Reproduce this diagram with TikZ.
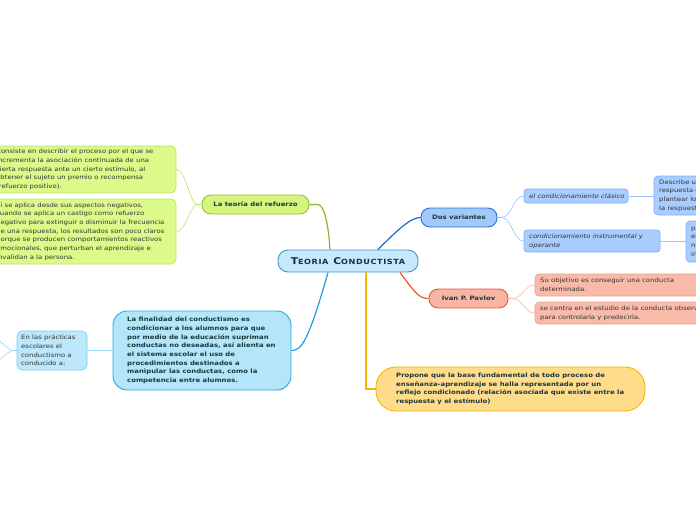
\documentclass[tikz,border=0pt]{standalone}
\usepackage{fontspec}
\setmainfont{DejaVu Sans}[FakeStretch=1.15]
\usetikzlibrary{calc}
\definecolor{txt}{HTML}{333333}
\definecolor{btxt}{HTML}{1C3838}
\definecolor{ctxt}{HTML}{1D2B55}
\definecolor{cfill}{HTML}{C6EAFB}\definecolor{cdraw}{HTML}{3D95D6}
\definecolor{gfill}{HTML}{D5F57C}\definecolor{gdraw}{HTML}{8BC53F}
\definecolor{g2fill}{HTML}{DBFA8A}\definecolor{g2draw}{HTML}{BDE366}
\definecolor{gline}{HTML}{8DB520}
\definecolor{bfill}{HTML}{A3C9FB}\definecolor{bdraw}{HTML}{2A6FD8}
\definecolor{b2fill}{HTML}{A9CDFF}\definecolor{b2draw}{HTML}{7EB0F2}
\definecolor{bline}{HTML}{1A66D8}\definecolor{b2line}{HTML}{9CC0F2}
\definecolor{rfill}{HTML}{F9B4A3}\definecolor{rdraw}{HTML}{E8563A}
\definecolor{r2fill}{HTML}{F9BBA9}\definecolor{r2draw}{HTML}{F2A08C}
\definecolor{rline}{HTML}{F05A2A}\definecolor{r2line}{HTML}{F6B4A2}
\definecolor{yfill}{HTML}{FFDB8C}\definecolor{ydraw}{HTML}{F7B500}
\definecolor{sfill}{HTML}{B3E5FB}\definecolor{sdraw}{HTML}{2BA6E6}
\definecolor{s2fill}{HTML}{BDE8FB}\definecolor{s2draw}{HTML}{7FCDF2}
\definecolor{sline}{HTML}{1A9FE0}\definecolor{s2line}{HTML}{9AD8F4}
\begin{document}
\begin{tikzpicture}[x=1pt,y=-1pt,
  box/.style={draw, line width=0.7pt, inner sep=0pt},
  lbl/.style={anchor=west, align=left, inner sep=0pt, text=txt, font=\fontsize{6}{8.7}\selectfont},
  blbl/.style={anchor=west, align=left, inner sep=0pt, text=btxt, font=\bfseries\fontsize{6}{8.7}\selectfont},
  ilbl/.style={anchor=west, align=left, inner sep=0pt, text=txt, font=\itshape\fontsize{6}{8.7}\selectfont},
  pill/.style={draw, line width=0.9pt, inner sep=0pt, text=btxt, font=\bfseries\fontsize{6}{8.7}\selectfont},
  conn/.style={line width=1.2pt},
  sconn/.style={line width=0.6pt}
]
\useasboundingbox (0,0) rectangle (696,520);
% central
\node[box, line width=0.9pt, fill=cfill, draw=cdraw, rounded corners=10pt, minimum width=140pt, minimum height=22pt, text=ctxt, font=\bfseries\addfontfeature{LetterSpace=8}] (c) at (348,261)
  {{\fontsize{9.3}{10}\selectfont T}{\fontsize{7.1}{10}\selectfont EORIA} {\fontsize{9.3}{10}\selectfont C}{\fontsize{7.1}{10}\selectfont ONDUCTISTA}};
% refuerzo
\node[pill, fill=gfill, draw=gdraw, rounded corners=9pt, minimum width=107pt, minimum height=19pt] (rf) at (255.5,204.5) {La teoría del refuerzo};
\node[box, fill=g2fill, draw=g2draw, rounded corners=5pt, minimum width=186pt, minimum height=47pt] (r1) at (83,169.5) {};
\node[lbl] (r1t) at (-4,169.5) {Consiste en describir el proceso por el que se\\incrementa la asociación continuada de una\\cierta respuesta ante un cierto estímulo, al\\obtener el sujeto un premio o recompensa\\(refuerzo positivo).};
\node[box, fill=g2fill, draw=g2draw, rounded corners=5pt, minimum width=186pt, minimum height=65pt] (r2) at (83,231.5) {};
\node[lbl] (r2t) at (-4,231.5) {Si se aplica desde sus aspectos negativos,\\cuando se aplica un castigo como refuerzo\\negativo para extinguir o disminuir la frecuencia\\de una respuesta, los resultados son poco claros\\porque se producen comportamientos reactivos\\emocionales, que perturban el aprendizaje e\\invalidan a la persona.};
% dos variantes
\node[pill, fill=bfill, draw=bdraw, rounded corners=9pt, minimum width=76pt, minimum height=19pt] (dv) at (459,217.5) {Dos variantes};
\node[box, fill=b2fill, draw=b2draw, rounded corners=3pt, minimum width=104pt, minimum height=14pt] (cl) at (576,196) {};
\node[ilbl] (clt) at (529,196) {el condicionamiento clásico};
\node[box, fill=b2fill, draw=b2draw, rounded corners=3pt, minimum width=136pt, minimum height=22pt] (ins) at (592,241) {};
\node[ilbl] (inst) at (529,241) {condicionamiento instrumental y\\operante};
\node[box, fill=b2fill, draw=b2draw, rounded corners=4pt, minimum width=86pt, minimum height=39pt] (desc) at (697,195.5) {};
\node[lbl] (desct) at (659,195.5) {Describe una\\respuesta co\\plantear los\\la respuesta};
\node[box, fill=b2fill, draw=b2draw, rounded corners=4pt, minimum width=54pt, minimum height=41pt] (pe) at (713,241.5) {};
\node[lbl] (pet) at (691,241.5) {pe\\el\\ne\\in};
% pavlov
\node[pill, fill=rfill, draw=rdraw, rounded corners=9pt, minimum width=79pt, minimum height=19pt] (pv) at (468.5,298.5) {Ivan P. Pavlov};
\node[box, fill=r2fill, draw=r2draw, rounded corners=4pt, minimum width=225pt, minimum height=22pt] (so) at (647.5,285) {};
\node[lbl] (sot) at (540,285) {Su objetivo es conseguir una conducta\\determinada.};
\node[box, fill=r2fill, draw=r2draw, rounded corners=4pt, minimum width=225pt, minimum height=22pt] (sc) at (647.5,313) {};
\node[lbl] (sct) at (540,313) {se centra en el estudio de la conducta observable\\para controlarla y predecirla.};
% yellow
\node[box, line width=0.9pt, fill=yfill, draw=ydraw, rounded corners=20pt, minimum width=269pt, minimum height=44pt] (yl) at (510.5,389) {};
\node[blbl] (ylt) at (396,389) {Propone que la base fundamental de todo proceso de\\enseñanza-aprendizaje se halla representada por un\\reflejo condicionado (relación asociada que existe entre la\\respuesta y el estímulo)};
% finalidad
\node[box, line width=0.9pt, fill=sfill, draw=sdraw, rounded corners=14pt, minimum width=178pt, minimum height=79pt] (fin) at (202,350.5) {};
\node[blbl] (fint) at (127,350.5) {La finalidad del conductismo es\\condicionar a los alumnos para que\\por medio de la educación supriman\\conductas no deseadas, así alienta en\\el sistema escolar el uso de\\procedimientos destinados a\\manipular las conductas, como la\\competencia entre alumnos.};
\node[box, fill=s2fill, draw=s2draw, rounded corners=5pt, minimum width=70pt, minimum height=39pt] (en) at (52,350.5) {};
\node[lbl] (ent) at (21,350.5) {En las prácticas\\escolares el\\conductismo a\\conducido a:};
\coordinate (o1) at (-8,337);
\coordinate (o2) at (-8,364);
% connectors
\draw[conn, gline] (rf.east) -- ++(8,0) .. controls +(6,0) and +(-2,-30) .. ([xshift=-18pt]c.north);
\draw[sconn, g2draw] (rf.west) -- ++(-4,0) .. controls +(-8,0) and +(10,0) .. (r1.east);
\draw[sconn, g2draw] (rf.west) -- ++(-4,0) .. controls +(-8,0) and +(10,0) .. (r2.east);
\draw[conn, bline] ([xshift=30pt]c.north) .. controls +(20,-20) and +(-10,0) .. (dv.west);
\draw[sconn, b2line] (dv.east) -- ++(4,0) .. controls +(10,0) and +(-10,0) .. (cl.west);
\draw[sconn, b2line] (dv.east) -- ++(4,0) .. controls +(10,0) and +(-10,0) .. (ins.west);
\draw[sconn, b2line] (cl.east) -- (cl.east -| desc.west);
\draw[sconn, b2line] (ins.east) -- (ins.east -| pe.west);
\draw[conn, rline] ([xshift=52pt]c.south) .. controls +(15,20) and +(-10,0) .. (pv.west);
\draw[sconn, r2line] (pv.east) -- ++(4,0) .. controls +(10,0) and +(-10,0) .. (so.west);
\draw[sconn, r2line] (pv.east) -- ++(4,0) .. controls +(10,0) and +(-10,0) .. (sc.west);
\draw[conn, ydraw] ([xshift=18pt]c.south) |- (yl.west);
\draw[conn, sline] ([xshift=-20pt]c.south) .. controls +(-20,70) and +(10,0) .. (fin.east);
\draw[sconn, s2line] (fin.west) -- (en.west -| en.east);
\draw[sconn, s2line] (en.west) -- ++(-4,0) .. controls +(-5,0) and +(6,0) .. (o1);
\draw[sconn, s2line] (en.west) -- ++(-4,0) .. controls +(-5,0) and +(6,0) .. (o2);
\end{tikzpicture}
\end{document}
